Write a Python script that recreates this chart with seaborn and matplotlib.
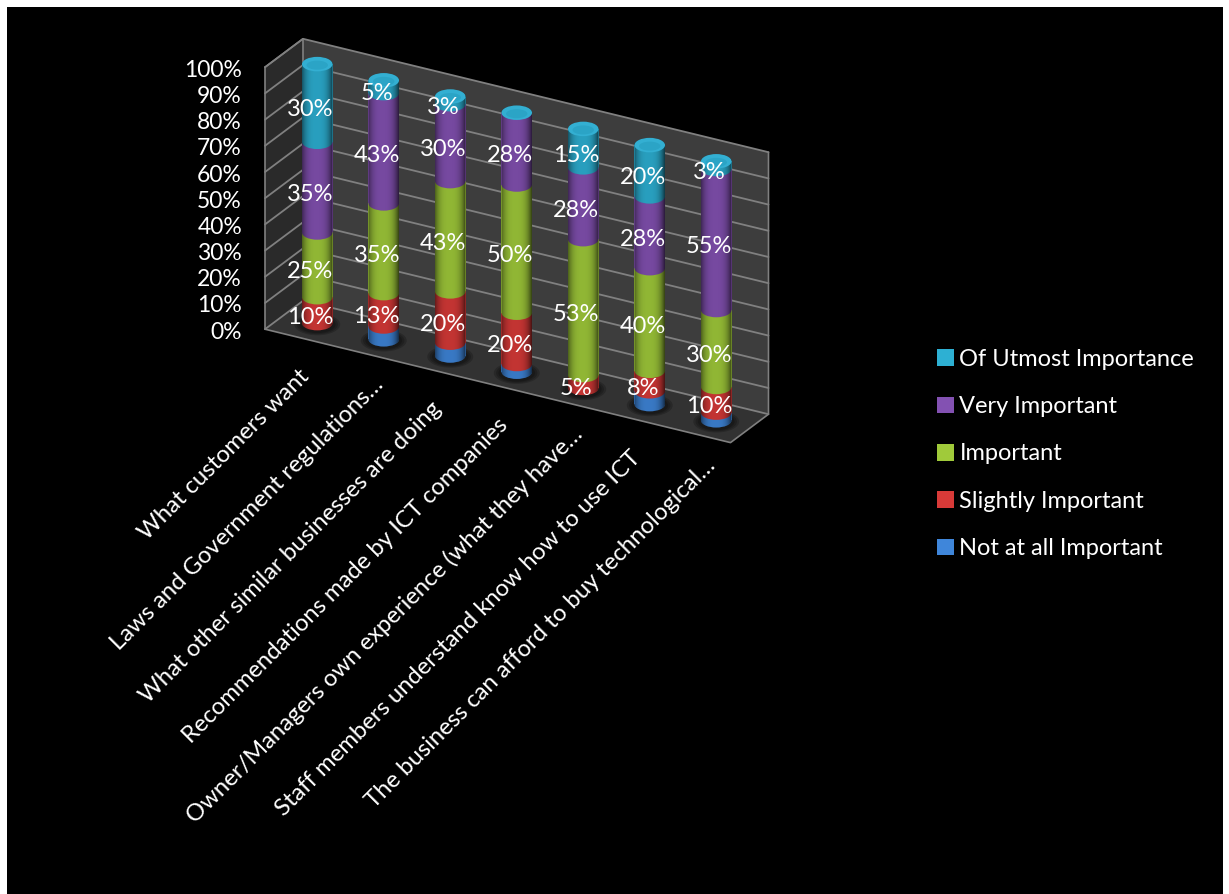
import numpy as np
import matplotlib
matplotlib.use("Agg")
import matplotlib.pyplot as plt
import seaborn as sns
from matplotlib.path import Path
from matplotlib.patches import Ellipse, Patch, Polygon
from matplotlib.transforms import Affine2D

categories = ["What customers want", "Laws and Government regulations…",
              "What other similar businesses are doing",
              "Recommendations made by ICT companies",
              "Owner/Managers own experience (what they have…",
              "Staff members understand know how to use ICT",
              "The business can afford to buy technological…"]
series_names = ["Not at all Important", "Slightly Important", "Important",
                "Very Important", "Of Utmost Importance"]
not_at_all = [0, 5, 5, 3, 0, 5, 3]
slightly = [10, 13, 20, 20, 5, 8, 10]
important = [25, 35, 43, 50, 53, 40, 30]
very = [35, 43, 30, 28, 28, 28, 55]
utmost = [30, 5, 3, 0, 15, 20, 3]
colors = ["#3F86DA", "#D83A38", "#A0CA3A", "#8351B2", "#2DB0D3"]
cap_color = "#33AFD2"
y_ticks = list(range(0, 101, 10))
labelled = [False, True, True, True, True]

sns.set_style("white")
plt.rcParams["font.family"] = ["Lato", "DejaVu Sans"]

fig = plt.figure(figsize=(12.29, 8.94), dpi=100, facecolor="white")
ax = fig.add_axes([7 / 1229, 0, 1216 / 1229, 887 / 894])
ax.set_facecolor("black")

values = np.array([not_at_all, slightly, important, very, utmost], dtype=float)
shares = values / values.sum(axis=0) * 100
cum = np.cumsum(shares, axis=0)

# each cylinder stands upright; its base steps down the oblique floor
T_col = [Affine2D.from_values(66.5, 0, 0, -2.59, 317.25, 323.1 + 16.2 * i) + ax.transData for i in range(7)]
x_left, x_right = -0.5, 6.5


def wall(x, pct, depth):
    return (317.25 + 66.5 * x + 19 * depth, 323.1 + 16.2 * x - 2.62 * pct - 14.2 * depth)


back_ll, back_lr = wall(x_left, 0, 1), wall(x_right, 0, 1)
back_ul, back_ur = wall(x_left, 100, 1), wall(x_right, 100, 1)
front_ll, front_lr = wall(x_left, 0, -1), wall(x_right, 0, -1)
front_ul = wall(x_left, 100, -1)
ax.add_patch(Polygon([back_ll, back_lr, back_ur, back_ul], fc="#3D3D3D", ec="none", zorder=0.1))
ax.add_patch(Polygon([front_ll, back_ll, back_ul, front_ul], fc="#2A2A2A", ec="none", zorder=0.1))
ax.add_patch(Polygon([front_ll, front_lr, back_lr, back_ll], fc="#323232", ec="none", zorder=0.1))
for v in y_ticks:
    p0, p1, p2 = wall(x_left, v, -1), wall(x_left, v, 1), wall(x_right, v, 1)
    ax.plot([p0[0], p1[0], p2[0]], [p0[1], p1[1], p2[1]], color="#808080", lw=1.3, zorder=0.2)
for pts in ([front_ll, front_ul], [front_ul, back_ul, back_ll], [front_ll, front_lr, back_lr, back_ur]):
    ax.plot(*zip(*pts), color="#808080", lw=1.2, zorder=0.2)

width = 0.46
eh = 5.6
for i in range(7):
    for scale in (1.5, 1.35, 1.2):
        ax.add_patch(Ellipse((i, -0.5), width * scale, eh * scale, transform=T_col[i],
                             fc="black", alpha=0.2, ec="none", zorder=0.5))

# stacked cylinders: the tallest cumulative series first, each shorter one over it
for k in range(4, -1, -1):
    before = len(ax.patches)
    sns.barplot(x=categories, y=cum[k], color=colors[k], saturation=1, width=width, ax=ax,
                linewidth=0, zorder=1)
    for i, b in enumerate(ax.patches[before:]):
        b.set_transform(T_col[i])

for k in range(5):
    base = cum[k] - shares[k]
    for i in range(7):
        if shares[k, i] > 0:
            ax.add_patch(Ellipse((i, base[i]), width, eh, transform=T_col[i], fc=colors[k], ec="none", zorder=1.1))

u = np.linspace(-1, 1, 128)
rgba = np.zeros((1, 128, 4))
rgba[..., 3] = 0.10 + 0.5 * np.abs(u + 0.05) ** 3
t = np.linspace(0, np.pi, 40)
for i in range(7):
    xs = np.r_[i - width / 2 * np.cos(t), i + width / 2 * np.cos(t)]
    ys = np.r_[-eh / 2 * np.sin(t), 100 + eh / 2 * np.sin(t)]
    im = ax.imshow(rgba, extent=[i - width / 2, i + width / 2, -5, 105], transform=T_col[i],
                   aspect="auto", zorder=1.2, interpolation="bilinear")
    im.set_clip_path(Path(np.c_[xs, ys], closed=False), T_col[i])
    ax.add_patch(Ellipse((i, 100), width, eh, transform=T_col[i], fc=cap_color, ec="none", zorder=1.3))
    ax.add_patch(Ellipse((i, 99.6), width * 0.7, eh * 0.62, transform=T_col[i], fc="#2BA4C6", ec="none", zorder=1.4))

for k in range(5):
    if not labelled[k]:
        continue
    for i in range(7):
        if values[k, i] > 0:
            ax.annotate(f"{values[k, i]:.0f}%", xy=(i, cum[k, i] - shares[k, i] / 2), xycoords=T_col[i],
                        xytext=(-7, -7), textcoords="offset pixels", ha="center", va="center",
                        color="white", fontsize=17, zorder=3)

for v in y_ticks:
    x, y = wall(x_left, v, -1)
    ax.text(x - 23, y + 3, f"{v}%", ha="right", va="center", color="white", fontsize=16.5)

for i, c in enumerate(categories):
    shift = 8 if c.endswith("…") else 0
    ax.annotate(c, xy=(i, 0), xycoords=T_col[i], xytext=(-12 + shift, -50 + shift), textcoords="offset pixels",
                rotation=45, rotation_mode="anchor", ha="right", va="center",
                color="white", fontsize=17.2)

ax.set_xlim(7, 1223)
ax.set_ylim(894, 7)
ax.set_xticks([])
ax.set_yticks([])
ax.set_xlabel("")
ax.set_ylabel("")
sns.despine(ax=ax, left=True, bottom=True)

handles = [Patch(fc=colors[k], ec="none", label=series_names[k]) for k in range(4, -1, -1)]
leg = ax.legend(handles=handles, loc="center left", bbox_to_anchor=(937, 454),
                bbox_transform=ax.transData, frameon=False, fontsize=17, labelcolor="white",
                handlelength=0.7, handleheight=0.7, handletextpad=0.25, labelspacing=1.12,
                borderpad=0, borderaxespad=0)

fig.savefig("out.png", dpi=100, facecolor="white")
